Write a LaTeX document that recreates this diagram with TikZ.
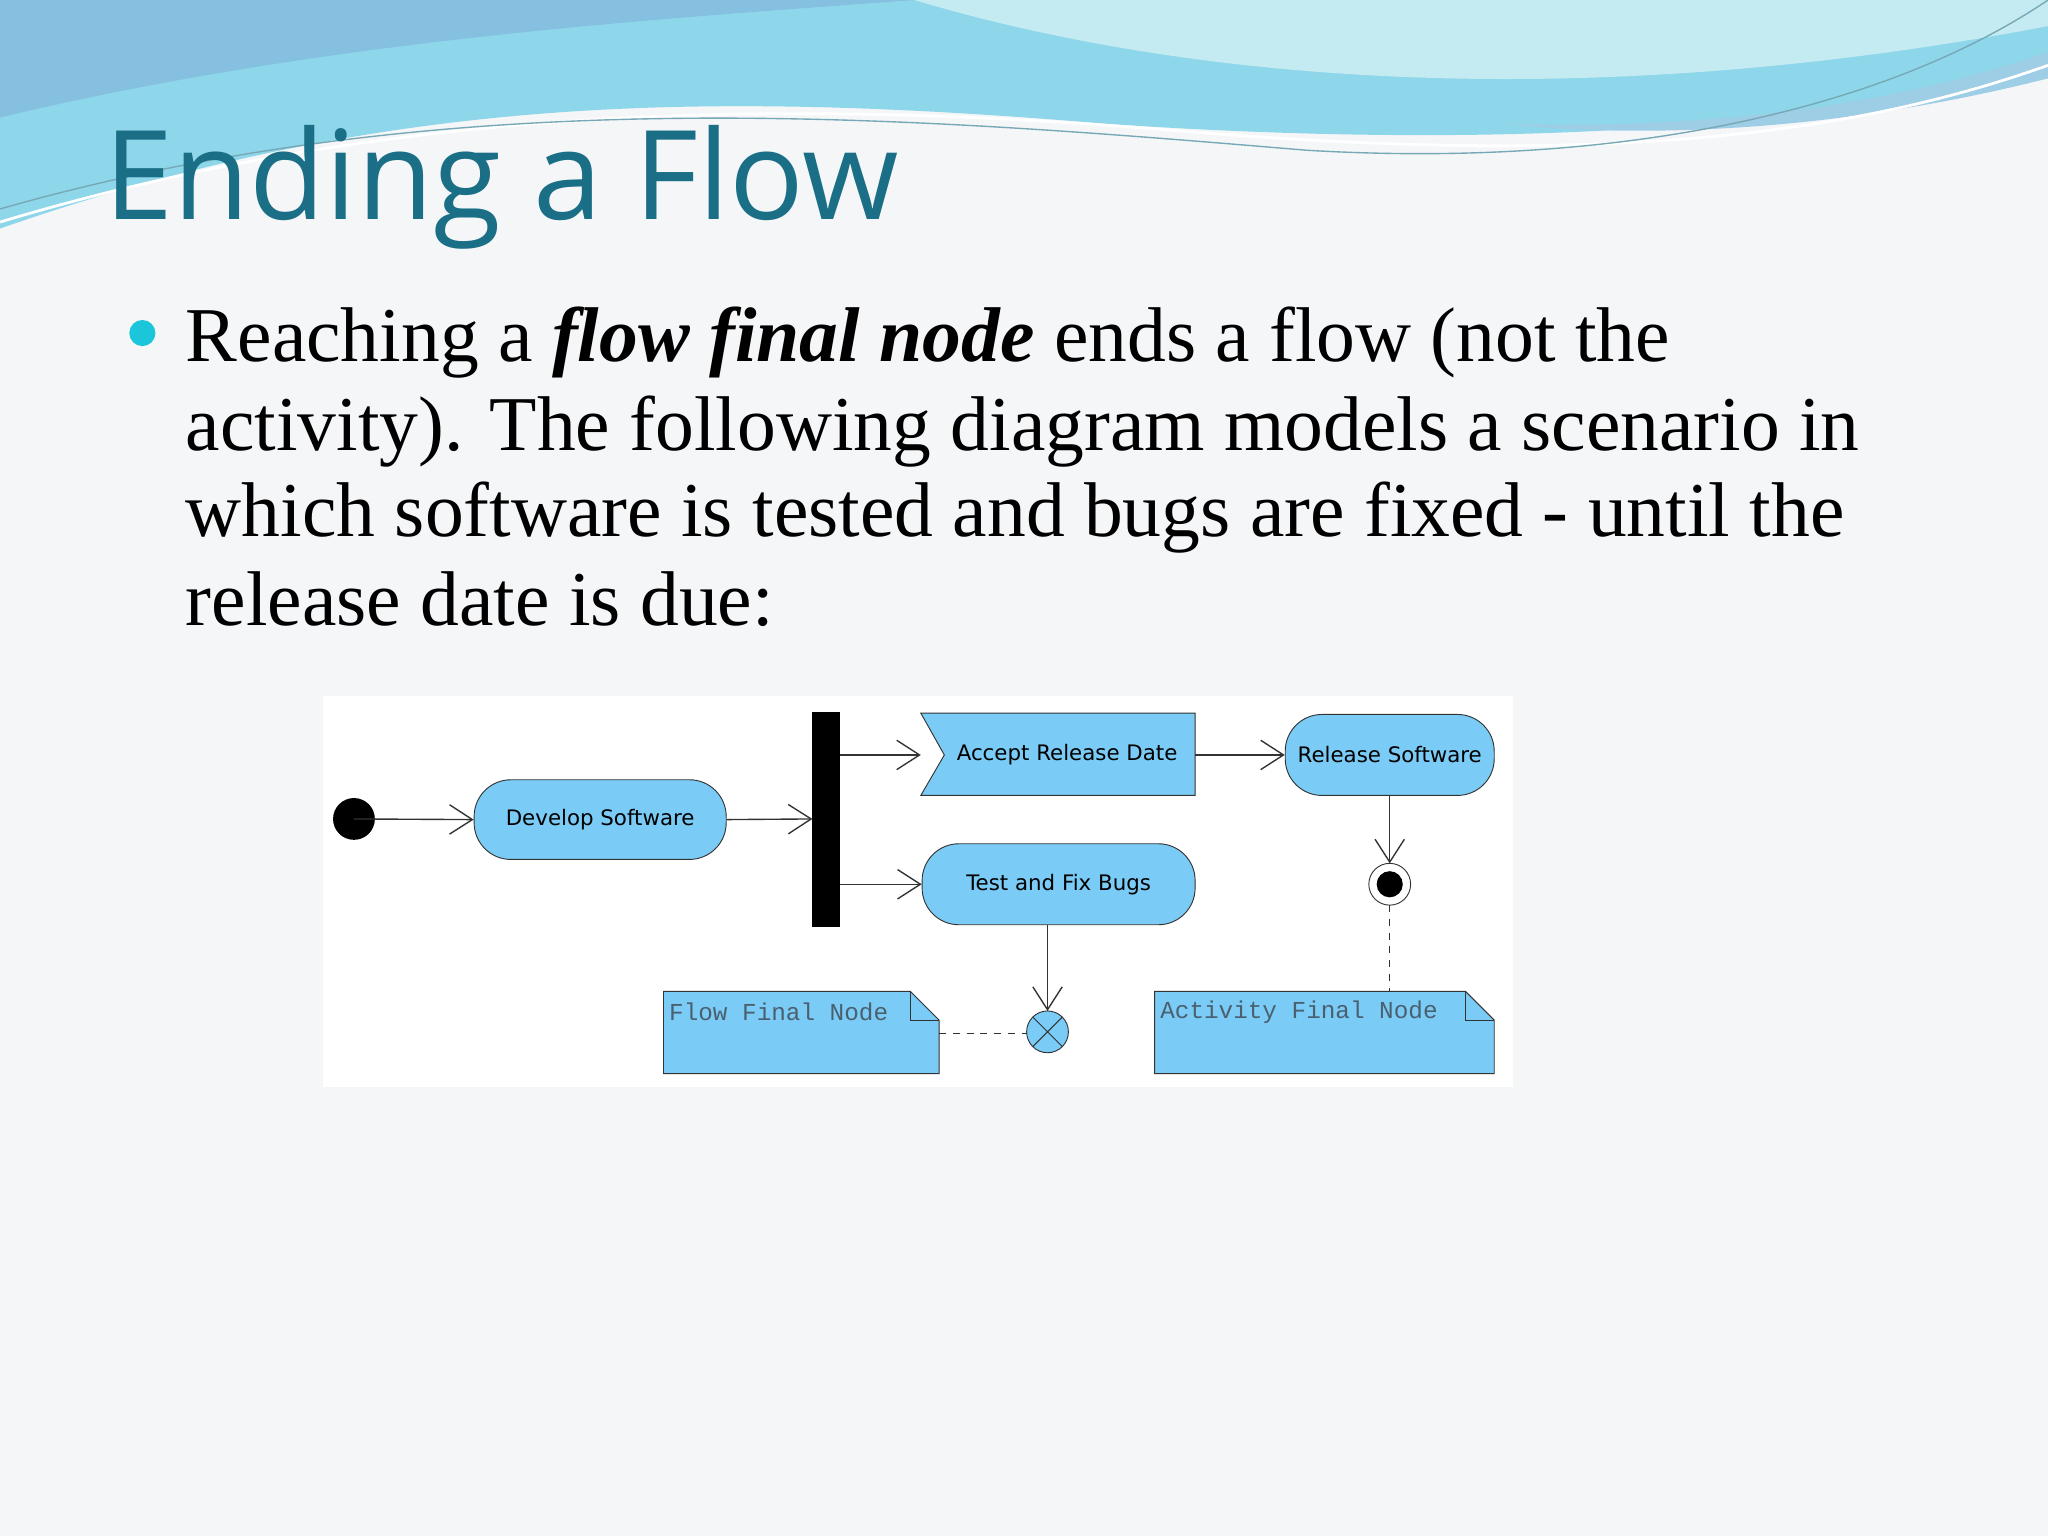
\documentclass[tikz,border=0pt]{standalone}
\usepackage{fontspec}
\setmainfont{Liberation Serif}
\newfontfamily\titlefont{Open Sans}
\newfontfamily\dsans{DejaVu Sans}
\newfontfamily\dmono{Liberation Mono}
\usetikzlibrary{arrows.meta}
\definecolor{bg}{HTML}{F5F6F8}
\definecolor{ttl}{HTML}{1A6E86}
\definecolor{nodeblue}{HTML}{7ACBF5}
\definecolor{wave1}{HTML}{8ED6EA}
\definecolor{wave2}{HTML}{86C0E0}
\definecolor{wave3}{HTML}{C4EAF2}
\definecolor{bul}{HTML}{1CC6DA}
\definecolor{notetxt}{HTML}{4A6070}
\tikzset{
  act/.style={draw=black!80, fill=nodeblue, rounded corners=16pt},
  flowarrow/.style={draw=black!80, line width=0.6pt, -{Straight Barb[length=3.5mm,width=4.5mm]}},
  notebox/.style={draw=black!80, fill=nodeblue},
  lbl/.style={font=\dsans\fontsize{9.3}{11}\selectfont, inner sep=0pt},
  notelbl/.style={font=\dmono\fontsize{10.6}{12}\selectfont, text=notetxt, inner sep=0pt, anchor=west},
  bodyline/.style={anchor=base west, inner sep=0pt, font=\fontsize{33.8}{40}\selectfont}
}
\begin{document}
\begin{tikzpicture}[x=0.02cm,y=-0.02cm]
\useasboundingbox (0,0) rectangle (1568,1176);
\fill[bg] (0,0) rectangle (1568,1176);
% waves
\fill[wave1] (0,0) -- (0,175) .. controls (300,70) and (550,70) .. (850,95) .. controls (1150,115) and (1400,100) .. (1568,45) -- (1568,0) -- cycle;
\fill[wave2] (0,0) -- (0,90) .. controls (250,30) and (500,15) .. (700,0) -- cycle;
\fill[wave3] (700,0) .. controls (900,60) and (1200,90) .. (1568,20) -- (1568,0) -- cycle;
\fill[wave2!80] (1150,95) .. controls (1350,100) and (1480,70) .. (1568,40) -- (1568,60) .. controls (1450,90) and (1300,110) .. (1150,95) -- cycle;
\draw[white, line width=1.2pt] (0,170) .. controls (300,80) and (600,75) .. (900,100) .. controls (1200,125) and (1400,110) .. (1568,50);
\draw[ttl!60, line width=0.6pt] (0,160) .. controls (350,60) and (700,90) .. (1000,115) .. controls (1250,130) and (1450,80) .. (1568,0);
% title
\node[anchor=base west, inner sep=0pt, text=ttl, font=\titlefont\fontsize{54}{60}\selectfont] (title) at (80,168) {Ending a Flow};
% bullet
\fill[bul] (109,255) circle (10) node (bullet) {};
\node[bodyline] (l1) at (142,277) {Reaching a \textbf{\textit{flow final node}} ends a flow (not the};
\node[bodyline] (l2) at (142,345) {activity). The following diagram models a scenario in};
\node[bodyline] (l3) at (142,411) {which software is tested and bugs are fixed - until the};
\node[bodyline] (l4) at (142,479) {release date is due:};
% diagram
\fill[white] (247,533) rectangle (1158,832);
\fill[black] (271,627) circle (16) coordinate (init);
\node[act, minimum width=193*0.02cm, minimum height=61*0.02cm, lbl] (dev) at (459.5,627.5) {Develop Software};
\fill[black] (622,545) rectangle (643,710);
\coordinate (barL) at (622,627);
\coordinate (barA) at (643,578);
\coordinate (barT) at (643,677);
\draw[draw=black!80, fill=nodeblue] (705,546) -- (915,546) -- (915,609) -- (705,609) -- (723,578) -- cycle;
\node[lbl] (acc) at (817,578) {Accept Release Date};
\coordinate (accL) at (705,578);
\coordinate (accR) at (915,578);
\node[act, minimum width=160*0.02cm, minimum height=62*0.02cm, lbl] (rel) at (1064,578) {Release Software};
\node[act, minimum width=209*0.02cm, minimum height=62*0.02cm, lbl] (test) at (810.5,677) {Test and Fix Bugs};
\draw[black!80, fill=white] (1064,677) circle (16);
\fill[black] (1064,677) circle (10);
\coordinate (af) at (1064,661);
\coordinate (afB) at (1064,693);
\draw[black!80, fill=nodeblue] (802,790) circle (16);
\draw[black!80] (802,790) ++(-11.3,-11.3) -- ++(22.6,22.6) (802,790) ++(11.3,-11.3) -- ++(-22.6,22.6);
\coordinate (ff) at (802,774);
\coordinate (ffL) at (786,791);
% notes
\draw[notebox] (508,759) -- (697,759) -- (719,781) -- (719,822) -- (508,822) -- cycle;
\draw[black!80] (697,759) -- (697,781) -- (719,781);
\node[notelbl] (n1) at (512,775) {Flow Final Node};
\coordinate (n1R) at (719,791);
\draw[notebox] (884,759) -- (1122,759) -- (1144,781) -- (1144,822) -- (884,822) -- cycle;
\draw[black!80] (1122,759) -- (1122,781) -- (1144,781);
\node[notelbl] (n2) at (888,775) {Activity Final Node};
\coordinate (n2T) at (1064,759);
% connectors
\draw[flowarrow] (init) -- (dev.west);
\draw[flowarrow] (dev.east) -- (barL);
\draw[flowarrow] (barA) -- (accL);
\draw[flowarrow] (barT) -- (test.west);
\draw[flowarrow] (accR) -- (rel.west);
\draw[flowarrow] (rel.south) -- (af);
\draw[flowarrow] (test.south -| ff) -- (ff);
\draw[black!80, dashed] (n1R) -- (ffL);
\draw[black!80, dashed] (afB) -- (n2T);
\end{tikzpicture}
\end{document}
